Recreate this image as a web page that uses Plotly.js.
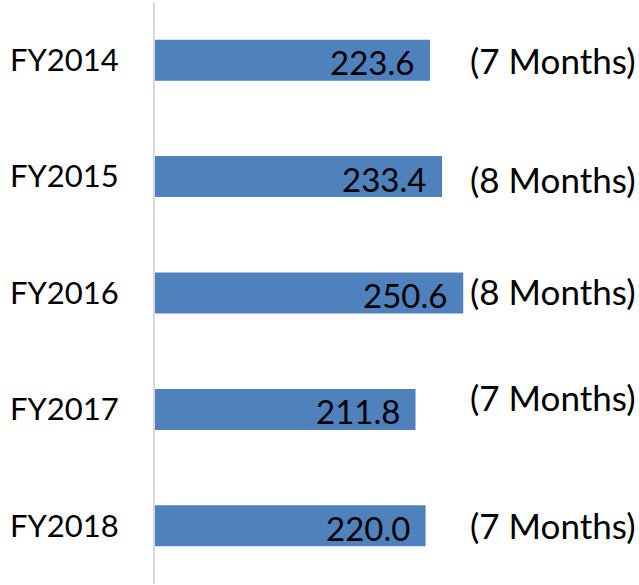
<!DOCTYPE html>
<html>
<head>
<meta charset="utf-8">
<script src="https://cdn.plot.ly/plotly-3.0.1.min.js"></script>
<style>
html,body{margin:0;padding:0;background:#fff;}
#chart{width:639px;height:585px;}
</style>
</head>
<body>
<div id="chart"></div>
<script>
const categories = ["FY2014", "FY2015", "FY2016", "FY2017", "FY2018"];
const values = [223.6, 233.4, 250.6, 211.8, 220.0];
const monthLabels = ["(7 Months)", "(8 Months)", "(8 Months)", "(7 Months)", "(7 Months)"];

const FONT = "Lato, 'Open Sans', sans-serif";
const monthShift = {"FY2014": 0, "FY2015": -2, "FY2016": 2, "FY2017": 12, "FY2018": 1};

const annotations = [];
categories.forEach((c, i) => {
  annotations.push({
    x: values[i], y: c, xref: 'x', yref: 'y',
    text: values[i].toFixed(1), showarrow: false,
    xanchor: 'right', yanchor: 'middle', xshift: -14, yshift: -2,
    font: {family: FONT, size: 33, color: '#000'}
  });
  annotations.push({
    x: 0.647, y: c, xref: 'paper', yref: 'y',
    text: monthLabels[i], showarrow: false,
    xanchor: 'left', yanchor: 'middle', yshift: monthShift[c],
    font: {family: FONT, size: 35, color: '#000'}
  });
});

const data = [{
  type: 'bar', orientation: 'h',
  x: values, y: categories,
  marker: {color: '#4f81bd', line: {width: 0}},
  hoverinfo: 'none'
}];

const layout = {
  width: 639, height: 585,
  margin: {l: 155, r: 0, t: 2, b: 1, pad: 0},
  paper_bgcolor: '#fff', plot_bgcolor: '#fff',
  showlegend: false,
  bargap: 0.648,
  xaxis: {range: [0, 393.5], visible: false, fixedrange: true},
  yaxis: {
    autorange: 'reversed', type: 'category',
    showline: true, linecolor: '#d9d9d9', linewidth: 2,
    showgrid: false, zeroline: false, ticks: '',
    ticklabelstandoff: 28,
    tickfont: {family: FONT, size: 31, color: '#000'},
    fixedrange: true
  },
  annotations: annotations
};

Plotly.newPlot('chart', data, layout, {displayModeBar: false, staticPlot: true});
</script>
</body>
</html>
